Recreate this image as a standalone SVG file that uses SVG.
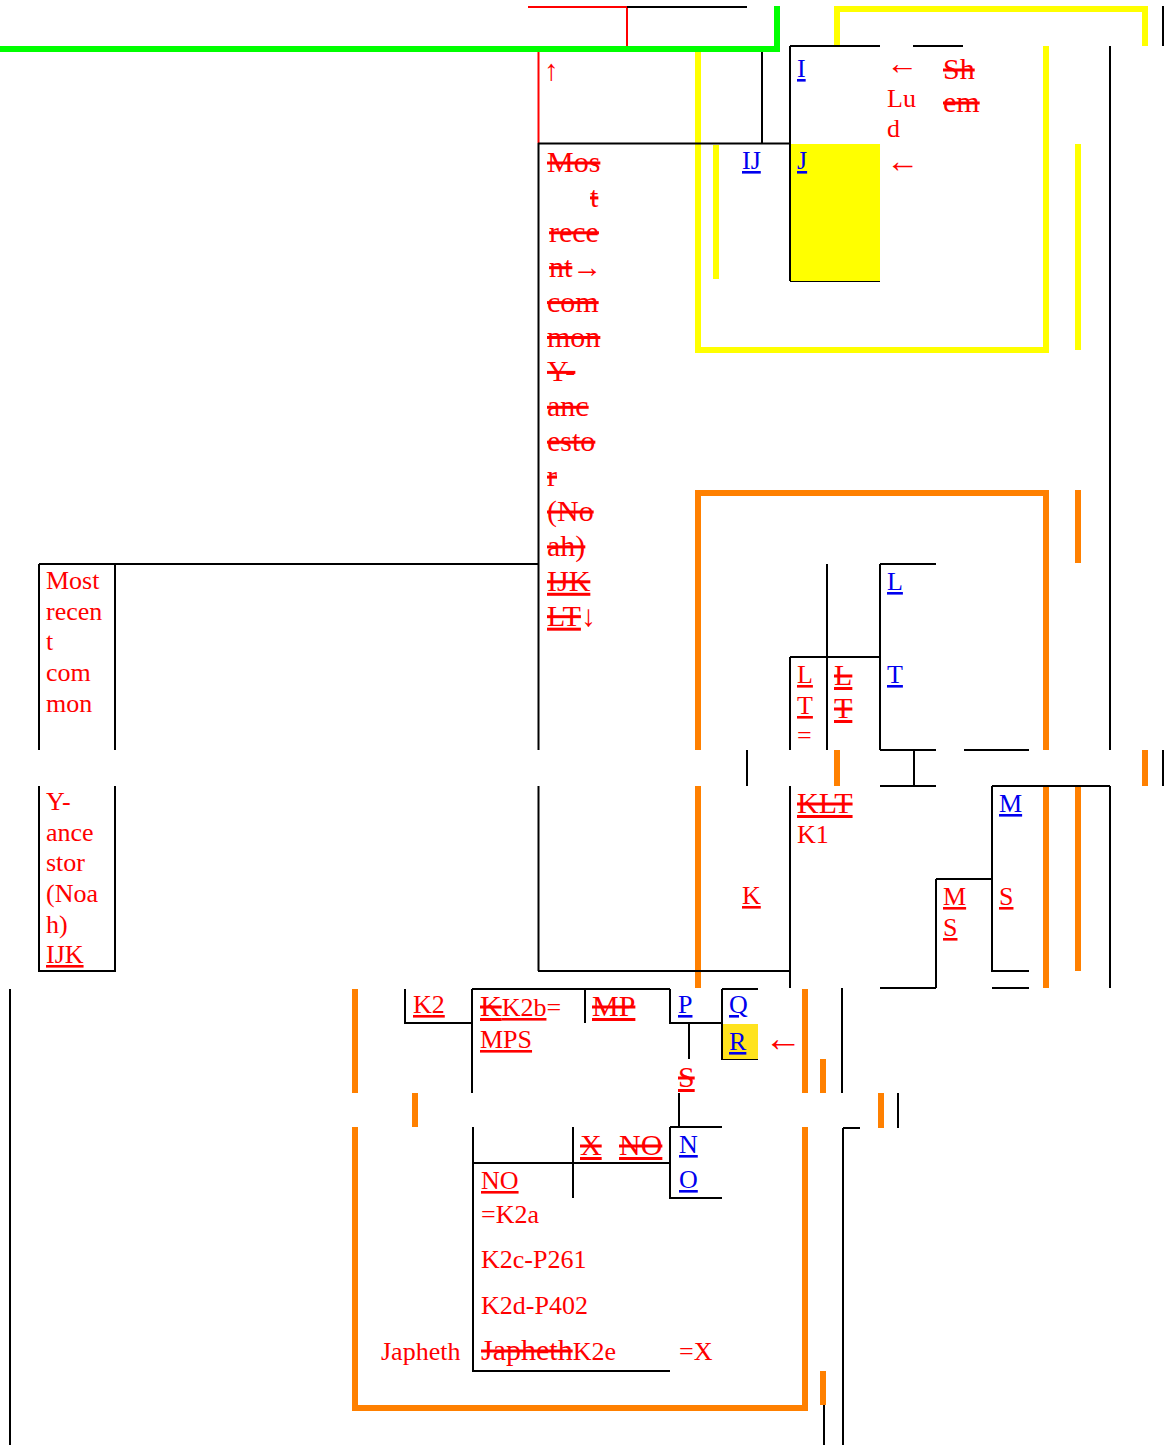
<svg xmlns="http://www.w3.org/2000/svg" width="1171" height="1445" viewBox="0 0 1171 1445">
<style>
text{font-family:"Liberation Serif","Times New Roman",serif;font-size:26px;fill:#ff0000}
.b{fill:#0000ee}
.u{text-decoration:underline}
.s{font-size:30px;text-decoration:line-through}
.su{font-size:30px;text-decoration:underline line-through}
.k{stroke:#000;stroke-width:2;fill:none}
.r{stroke:#ff0000;stroke-width:2;fill:none}
.g{fill:#00ff00}
.y{fill:#ffff00}
.o{fill:#ff8000}
</style>
<rect width="1171" height="1445" fill="#fff"/>
<g id="frames">
<rect class="g" x="0" y="46" width="780" height="6"/>
<rect class="g" x="774" y="6" width="6" height="46"/>
<rect class="y" x="834" y="6" width="314" height="6"/>
<rect class="y" x="834" y="6" width="6" height="40"/>
<rect class="y" x="1142" y="6" width="6" height="40"/>
<rect class="y" x="695" y="52" width="6" height="301"/>
<rect class="y" x="695" y="347" width="354" height="6"/>
<rect class="y" x="1043" y="46" width="6" height="307"/>
<rect class="y" x="713" y="145" width="6" height="134"/>
<rect class="y" x="1075" y="144" width="6" height="206"/>
<rect class="o" x="695" y="490" width="354" height="6"/>
<rect class="o" x="695" y="490" width="6" height="260"/>
<rect class="o" x="1043" y="490" width="6" height="260"/>
<rect class="o" x="1075" y="490" width="6" height="73"/>
<rect class="o" x="834" y="750" width="6" height="36"/>
<rect class="o" x="1142" y="750" width="6" height="36"/>
<rect class="o" x="695" y="786" width="6" height="202"/>
<rect class="o" x="1043" y="786" width="6" height="202"/>
<rect class="o" x="1075" y="786" width="6" height="185"/>
<rect class="o" x="352" y="989" width="6" height="104"/>
<rect class="o" x="802" y="989" width="6" height="104"/>
<rect class="o" x="820" y="1059" width="6" height="34"/>
<rect class="o" x="412" y="1093" width="6" height="34"/>
<rect class="o" x="878" y="1093" width="6" height="35"/>
<rect class="o" x="352" y="1127" width="6" height="284"/>
<rect class="o" x="352" y="1405" width="456" height="6"/>
<rect class="o" x="802" y="1127" width="6" height="284"/>
<rect class="o" x="820" y="1371" width="6" height="34"/>
</g>
<g id="connectors">
<path class="r" d="M528,7 H627 M627,7 V46 M538.5,52 V143"/>
<path class="k" d="M627,7 H747 M762,52 V143 M538,143.5 H790 M790,46 V281 M790,46 H880 M913,46 H963 M790,281 H880"/>
<path class="k" d="M1110,46 V750 M1110,786 V988 M1163,6 V46 M1163,750 V786"/>
<path class="k" d="M538.5,143 V750 M538.5,786 V971 M538,971 H790 M39,564 H538 M39,564 V750 M115,564 V750 M39,786 V971 H115 V786"/>
<path class="k" d="M827,564 V750 M790,657 H880 M790,657 V750 M880,564 V750 M880,564 H936 M880,750 H936 M964,750 H1029 M914,750 V786 M880,786 H936 M747,750 V786"/>
<path class="k" d="M790,786 V988 M992,786 H1110 M992,786 V971 H1029 M936,879 V988 M936,879 H992 M880,988 H936 M992,988 H1029 M842,988 V1093"/>
<path class="k" d="M405,989 V1023 H472 M472,989 V1093 M472,989 H670 M585,989 V1023 M670,989 V1023 H722 M722,989 V1059 H758 M722,989 H758 M689,1023 V1059 M679,1093 V1127 M898,1093 V1128"/>
<path class="k" d="M10,989 V1445 M843,1128 V1445 M843,1128 H860 M824,1405 V1445"/>
<path class="k" d="M473,1127 V1371 H670 M473,1163 H670 M573,1127 V1198 M670,1127 V1198 H722 M670,1127 H722"/>
</g>
<g id="node-top">
<text x="544" y="80" style="font-size:29px">↑</text>
</g>
<g id="node-IJ">
<rect x="791" y="144" width="89" height="137" fill="#ffff00"/>
<text class="b u" x="797" y="77">I</text>
<text class="b u" x="742" y="169">IJ</text>
<text class="b u" x="797" y="169">J</text>
<text x="886" y="74" style="font-size:32px">←</text>
<text x="887" y="107">Lu</text>
<text x="887" y="137">d</text>
<text x="886" y="172" style="font-size:33px">←</text>
<text class="s" x="943" y="79">Sh</text>
<text class="s" x="943" y="112">em</text>
</g>
<g id="node-struck-column">
<text class="s" x="547" y="172">Mos</text>
<text class="s" x="590" y="206.9">t</text>
<text class="s" x="549" y="241.8">rece</text>
<text x="549" y="276.7" style="font-size:30px"><tspan style="text-decoration:line-through">nt</tspan>→</text>
<text class="s" x="547" y="311.6">com</text>
<text class="s" x="547" y="346.5">mon</text>
<text class="s" x="547" y="381.4">Y- </text>
<text class="s" x="547" y="416.3">anc</text>
<text class="s" x="547" y="451.2">esto</text>
<text class="s" x="547" y="486.1">r</text>
<text class="s" x="547" y="521">(No</text>
<text class="s" x="547" y="555.9">ah)</text>
<text class="su" x="547" y="590.8">IJK</text>
<text x="547" y="625.7" style="font-size:30px"><tspan style="text-decoration:underline line-through">LT</tspan>↓</text>
</g>
<g id="node-ancestor-top">
<text x="46" y="589">Most</text>
<text x="46" y="620">recen</text>
<text x="46" y="650">t</text>
<text x="46" y="681">com</text>
<text x="46" y="712">mon</text>
</g>
<g id="node-ancestor-bottom">
<text x="46" y="810">Y-</text>
<text x="46" y="841">ance</text>
<text x="46" y="871">stor</text>
<text x="46" y="902">(Noa</text>
<text x="46" y="933">h)</text>
<text class="u" x="46" y="963">IJK</text>
</g>
<g id="node-LT">
<text class="b u" x="887" y="590">L</text>
<text class="b u" x="887" y="683">T</text>
<text class="u" x="797" y="683">L</text>
<text class="u" x="797" y="714">T</text>
<text x="797" y="744">=</text>
<text class="su" x="834" y="685">L</text>
<text class="su" x="834" y="718">T</text>
</g>
<g id="node-K">
<text class="su" x="797" y="813">KLT</text>
<text x="797" y="843">K1</text>
<text class="u" x="742" y="904">K</text>
</g>
<g id="node-MS">
<text class="u" x="943" y="905">M</text>
<text class="u" x="943" y="936">S</text>
<text class="b u" x="999" y="812">M</text>
<text class="u" x="999" y="905">S</text>
</g>
<g id="node-K2">
<text class="u" x="413" y="1013">K2</text>
<text x="480" y="1016"><tspan style="font-size:30px;text-decoration:underline line-through">K</tspan><tspan class="u">K2b</tspan>=</text>
<text class="u" x="480" y="1048">MPS</text>
<text class="su" x="592" y="1016">MP</text>
</g>
<g id="node-PQR">
<rect x="723" y="1024" width="35" height="35" fill="#ffe31e"/>
<text class="b u" x="678" y="1013">P</text>
<text class="b u" x="729" y="1013">Q</text>
<text class="b u" x="729" y="1050">R</text>
<text x="764" y="1051" style="font-size:38px">←</text>
<text class="su" x="678" y="1087">S</text>
</g>
<g id="node-NO">
<text class="su" x="580" y="1155">X</text>
<text class="su" x="619" y="1155">NO</text>
<text class="b u" x="679" y="1153">N</text>
<text class="b u" x="679" y="1188">O</text>
</g>
<g id="node-K2a">
<text class="u" x="481" y="1189">NO</text>
<text x="481" y="1223">=K2a</text>
<text x="481" y="1268">K2c-P261</text>
<text x="481" y="1314">K2d-P402</text>
<text x="381" y="1360">Japheth</text>
<text x="481" y="1360"><tspan style="font-size:30px;text-decoration:line-through">Japheth</tspan>K2e</text>
<text x="679" y="1360">=X</text>
</g>
</svg>
